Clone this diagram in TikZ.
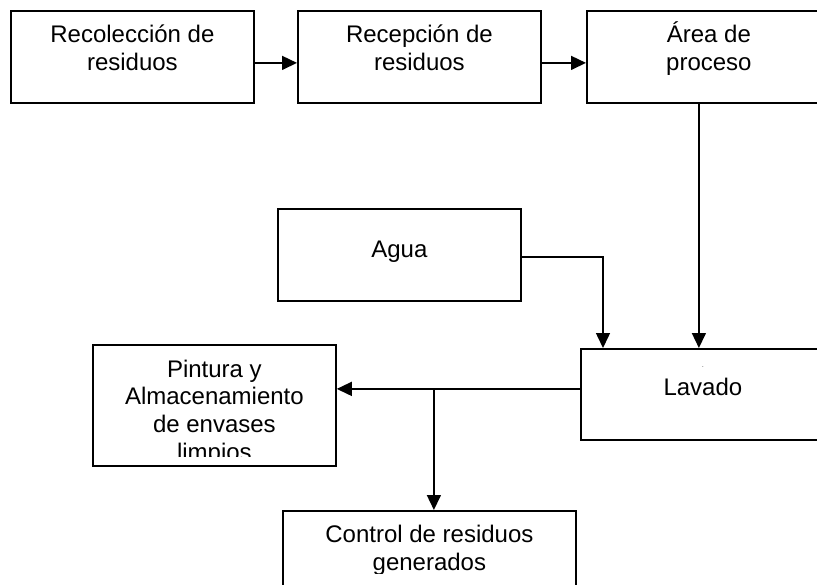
\documentclass[tikz,border=0pt]{standalone}
\usepackage{fontspec}
\setmainfont{Liberation Sans}
\usetikzlibrary{arrows.meta,positioning}

\begin{document}
\begin{tikzpicture}[x=1pt,y=-1pt,
    caja/.style={draw,line width=1.8pt,minimum width=243pt,minimum height=92pt,inner sep=0pt,anchor=north west},
    texto/.style={align=center,inner sep=0pt,anchor=base,font=\fontsize{24pt}{27.6pt}\selectfont},
    flecha/.style={line width=1.5pt,-{Triangle[length=15pt,width=14pt]}}]
  \useasboundingbox (0,0) rectangle (817,584);
  \clip (0,0) rectangle (817,584);
  % cajas
  \node[caja] (reco) at (10,10) {};
  \node[caja] (recep) at (297,10) {};
  \node[caja,minimum width=244pt] (area) at (586,10) {};
  \node[caja] (agua) at (277,208) {};
  \node[caja,minimum width=244pt,minimum height=91pt] (lavado) at (580,348) {};
  \node[caja,minimum height=121pt] (pintura) at (92,344) {};
  \node[caja,minimum width=293pt,minimum height=100pt] (control) at (282,510) {};
  % textos (base = ultima linea)
  \node[texto] (reco-t) at ([yshift=-60pt]reco.north) {Recolección de\\residuos};
  \node[texto] (recep-t) at ([yshift=-60pt]recep.north) {Recepción de\\residuos};
  \node[texto] (area-t) at ([yshift=-60pt]area.north) {Área de\\proceso};
  \node[texto] (agua-t) at ([yshift=-49pt]agua.north) {Agua};
  \node[texto] (lavado-t) at ([yshift=-47pt]lavado.north) {{\fontsize{6pt}{7pt}\selectfont .}\\Lavado};
  \begin{scope}
    \clip (pintura.north west) rectangle ([yshift=10pt]pintura.south east);
    \node[texto] (pintura-t) at ([yshift=-116pt]pintura.north) {Pintura y\\Almacenamiento\\de envases\\limpios};
  \end{scope}
  \begin{scope}
    \clip (control.north west) rectangle ([yshift=-63pt]control.north east);
    \node[texto] (control-t) at ([yshift=-60pt]control.north) {Control de residuos\\generados};
  \end{scope}
  % flechas
  \draw[flecha] ([yshift=-6pt]reco.east) -- ([yshift=-6pt]recep.west);
  \draw[flecha] ([yshift=-6pt]recep.east) -- ([yshift=-6pt]area.west);
  \draw[flecha] ([xshift=-10pt]area.south) -- ([xshift=-10pt]area.south |- lavado.north);
  \draw[flecha] ([yshift=-2pt]agua.east) -| ([xshift=23pt]lavado.north west);
  \coordinate (sal) at ([yshift=5.5pt]lavado.west);
  \path (sal -| control.north) ++(4.5,0) coordinate (cruce);
  \draw[flecha] (sal) -- (sal -| pintura.east);
  \draw[flecha] (cruce) -- (cruce |- control.north);
\end{tikzpicture}
\end{document}
